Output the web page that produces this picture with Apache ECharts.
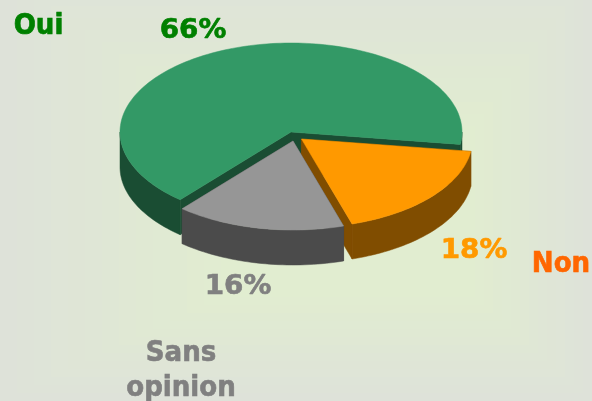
<!DOCTYPE html>
<html><head><meta charset="utf-8">
<style>html,body{margin:0;padding:0;background:#dfe3d9}#c{width:592px;height:401px}</style>
<script src="https://cdn.jsdelivr.net/npm/echarts@6/dist/echarts.min.js"></script>
</head><body><div id="c"></div>
<script>
const categories = ['Non', 'Sans opinion', 'Oui'];
const values = [18, 16, 66];
const percentLabels = ['18%', '16%', '66%'];
const nameLabels = ['Non', 'Sans\nopinion', 'Oui'];
const topColors = ['#ff9900', '#969696', '#339966'];
const sideColors = ['#804d00', '#4b4b4b', '#1a4d33'];
const nameColors = ['#ff6600', '#808080', '#008000'];
const pctColors = ['#ff9900', '#808080', '#008000'];

// layout
const CX = 291, CY = 132, RX = 171, RY = 89, DEPTH = 35, START = 8;
const offsets = [[10.5, 7], [2, 9], [0, 0]];
const pctPos = [[474, 251], [238, 287], [193, 31]];
const namePos = [[561, 264], [181, 371], [38.5, 26]];

const total = values.reduce((a, b) => a + b, 0);
const rad = d => d * Math.PI / 180;
function pt(cx, cy, deg, dy) {
  return [cx + RX * Math.cos(rad(deg)), cy + RY * Math.sin(rad(deg)) + (dy || 0)];
}
function arc(cx, cy, a, b, dy) {
  const n = Math.max(2, Math.ceil(Math.abs(b - a) / 1.5)), out = [];
  for (let i = 0; i <= n; i++) out.push(pt(cx, cy, a + (b - a) * i / n, dy));
  return out;
}
function poly(points, fill) {
  return { type: 'polygon', shape: { points }, style: { fill, stroke: fill, lineWidth: 0.5 } };
}
function slice(i, a0, a1) {
  const cx = CX + offsets[i][0], cy = CY + offsets[i][1], ch = [];
  const side = sideColors[i], top = topColors[i];
  const wall = (a) => {
    const p = pt(cx, cy, a);
    return poly([[cx, cy], p, [p[0], p[1] + DEPTH], [cx, cy + DEPTH]], side);
  };
  ch.push(wall(a0), wall(a1));
  // outer rim: only the part on the near half of the ellipse shows
  [[a0, Math.min(a1, 180)], [360, a1]].forEach(([s, e]) => {
    if (e > s) ch.push(poly(arc(cx, cy, s, e).concat(arc(cx, cy, s, e, DEPTH).reverse()), side));
  });
  ch.push(poly([[cx, cy]].concat(arc(cx, cy, a0, a1)), top));
  return ch;
}
// order drawn: green at back, then orange, then grey
const drawOrder = [2, 0, 1];
const angles = []; let acc = START;
values.forEach((v, i) => { const a = acc + v / total * 360; angles[i] = [acc, a]; acc = a; });

function label(txt, pos, color, size, fam, lh, sx) {
  return { type: 'text', z2: 50, x: pos[0], y: pos[1], scaleX: sx || 1,
    style: { text: txt, fill: color, stroke: color, lineWidth: 0.6, align: 'center', verticalAlign: 'middle',
      lineHeight: lh, fontFamily: fam, fontWeight: 'bold', fontSize: size } };
}

// background: stepped rectangular gradient
const bg = [];
const STEPS = 14, c0 = [222, 226, 217], c1 = [225, 237, 208];
for (let k = 0; k < STEPS; k++) {
  const t = k / (STEPS - 1), m = c0.map((c, j) => Math.round(c + (c1[j] - c) * t));
  const x0 = k * 17, x1 = 592 - k * 9, y0 = -30 + k * 12, y1 = 401 - k * 8;
  bg.push({ type: 'rect', z: -10, silent: true, shape: { x: x0, y: y0, width: x1 - x0, height: y1 - y0 },
    style: { fill: `rgb(${m.join(',')})` } });
}

const chart = echarts.init(document.getElementById('c'), null, { renderer: 'canvas' });
chart.setOption({
  animation: false,
  backgroundColor: '#dee2d9',
  graphic: { elements: bg },
  series: [{
    type: 'custom', coordinateSystem: 'none', silent: true,
    data: drawOrder.map(i => ({ name: categories[i], value: [i, values[i]] })),
    renderItem(params, api) {
      const i = api.value(0);
      const a = angles[i];
      return { type: 'group', children: slice(i, a[0], a[1]).concat([
        label(percentLabels[i], pctPos[i], pctColors[i], 26, 'DejaVu Sans', 30, 1.07),
        label(nameLabels[i], namePos[i], nameColors[i], 29, 'DejaVu Sans Condensed', 35, 1)
      ]) };
    }
  }]
});
</script></body></html>
